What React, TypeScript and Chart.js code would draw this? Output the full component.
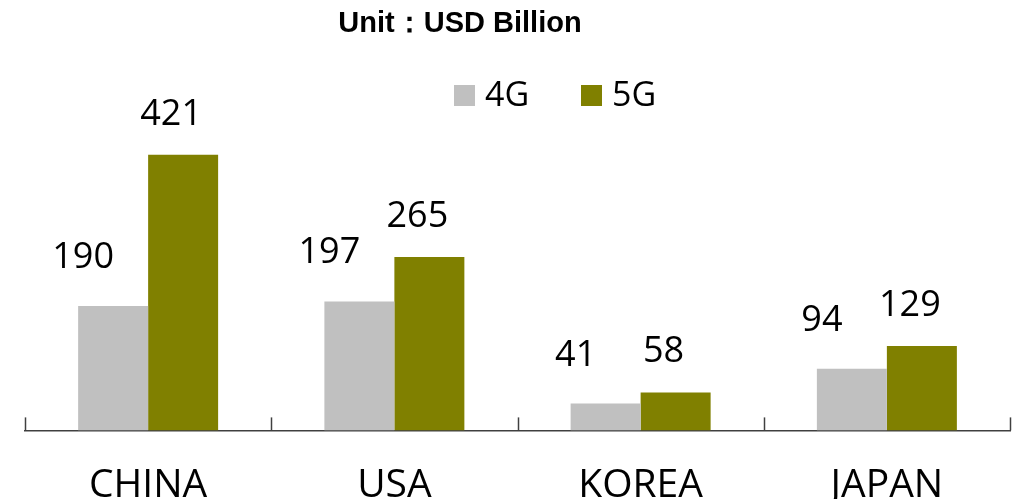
import React, { useEffect, useRef } from "react";
import { Chart, registerables } from "chart.js";

Chart.register(...registerables);

const categories = ["CHINA", "USA", "KOREA", "JAPAN"];
const series4G = [190, 197, 41, 94];
const series5G = [421, 265, 58, 129];
const seriesLabels = ["4G", "5G"];
const titleText = "Unit\uFF1AUSD Billion";

const COLOR_4G = "#C0C0C0";
const COLOR_5G = "#808000";
const AXIS_COLOR = "#404040";
const FONT = "'Open Sans', 'Noto Sans', sans-serif";

export default function App() {
  const ref = useRef<HTMLCanvasElement | null>(null);

  useEffect(() => {
    if (!ref.current) return;

    const overlay = {
      id: "overlay",
      afterDraw(chart: any) {
        const ctx = chart.ctx;
        const xs = chart.scales.x;
        const area = chart.chartArea;
        ctx.save();
        // upward tick marks at category boundaries
        ctx.strokeStyle = AXIS_COLOR;
        ctx.lineWidth = 1.5;
        for (let i = 0; i <= categories.length; i++) {
          const x = Math.round(xs.getPixelForValue(i - 0.5)) + 0.5;
          ctx.beginPath();
          ctx.moveTo(x, area.bottom);
          ctx.lineTo(x, area.bottom - 13);
          ctx.stroke();
        }
        // data labels
        const offs = [
          { dx: -30, dy: -38 },
          { dx: -12, dy: -30 },
        ];
        ctx.fillStyle = "#000";
        ctx.font = `36px ${FONT}`;
        ctx.textAlign = "center";
        ctx.textBaseline = "alphabetic";
        chart.data.datasets.forEach((ds: any, di: number) => {
          const meta = chart.getDatasetMeta(di);
          meta.data.forEach((el: any, i: number) => {
            ctx.fillText(String(ds.data[i]), el.x + offs[di].dx, el.y + offs[di].dy);
          });
        });
        // title
        ctx.font = `bold 29px 'Liberation Sans', Arial, sans-serif`;
        ctx.fillText(titleText, 460, 32);
        // legend
        ctx.font = `34px ${FONT}`;
        ctx.textAlign = "left";
        const starts = [454, 581];
        chart.data.datasets.forEach((ds: any, di: number) => {
          const x0 = starts[di];
          ctx.fillStyle = ds.backgroundColor;
          ctx.fillRect(x0, 85, 21, 21);
          ctx.fillStyle = "#000";
          ctx.fillText(ds.label, x0 + 31, 106);
        });
        ctx.restore();
      },
    };

    const chart = new Chart(ref.current, {
      type: "bar",
      data: {
        labels: categories,
        datasets: [
          {
            label: seriesLabels[0],
            data: series4G,
            backgroundColor: COLOR_4G,
            barPercentage: 1,
            categoryPercentage: 0.5685,
          },
          {
            label: seriesLabels[1],
            data: series5G,
            backgroundColor: COLOR_5G,
            barPercentage: 1,
            categoryPercentage: 0.5685,
          },
        ],
      },
      options: {
        animation: false,
        responsive: false,
        maintainAspectRatio: false,
        layout: {
          padding: { top: 116.2, left: 25, right: 10, bottom: -41.4 },
        },
        plugins: {
          legend: { display: false },
          title: { display: false },
          tooltip: { enabled: false },
        },
        scales: {
          x: {
            grid: { display: false, drawTicks: false, offset: true },
            border: { display: true, color: AXIS_COLOR, width: 1.5 },
            ticks: {
              color: "#000",
              padding: 31.6,
              font: { size: 39, family: FONT, lineHeight: 1.2 },
              maxRotation: 0,
              autoSkip: false,
            },
          },
          y: {
            display: false,
            min: 0,
            max: 480,
          },
        },
      },
      plugins: [overlay],
    });

    return () => chart.destroy();
  }, []);

  return (
    <div style={{ position: "absolute", left: 0, top: 0, width: 1020, height: 499, overflow: "hidden", background: "#fff" }}>
      <canvas ref={ref} width={1020} height={499} style={{ display: "block" }} />
    </div>
  );
}
